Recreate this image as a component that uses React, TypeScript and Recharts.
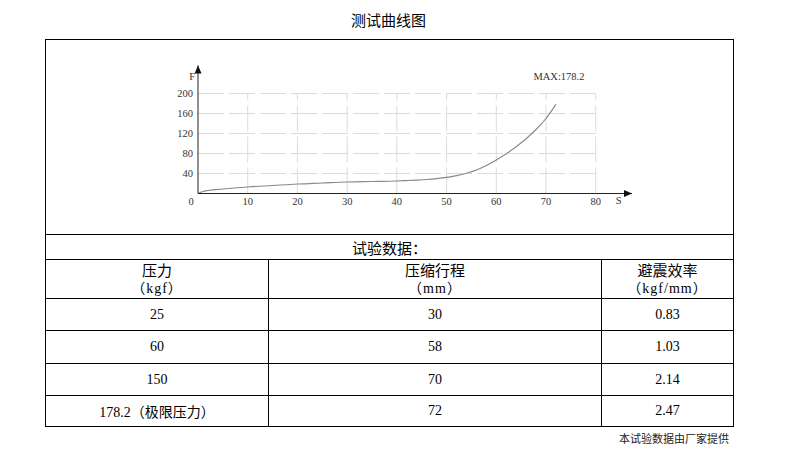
import React from 'react';
import {
  LineChart,
  Line,
  XAxis,
  YAxis,
  ReferenceLine,
  ReferenceDot,
} from 'recharts';

// curve: stroke S (mm) -> force F (kgf)
const curveS = [0, 1, 2, 5, 10, 15, 20, 25, 30, 35, 40, 42, 44, 46, 48, 50, 52, 54, 56, 58, 60, 62, 64, 66, 68, 70, 72];
const curveF = [0, 4, 6, 9, 13, 16, 19, 21, 23, 24, 25, 25.9, 26.8, 28, 29.8, 32.3, 35.8, 40.5, 47, 56, 67, 79.5, 93.5, 109.5, 128, 150, 178.2];

const xTicks = [0, 10, 20, 30, 40, 50, 60, 70, 80];
const yTicks = [40, 80, 120, 160, 200];
const maxForce = 178.2;

// test data table
const pressures = ['25', '60', '150', '178.2（极限压力）'];
const strokes = ['30', '58', '70', '72'];
const efficiencies = ['0.83', '1.03', '2.14', '2.47'];

const chartData = curveS.map((s, i) => ({ s, f: curveF[i] }));

const SERIF = '"Liberation Serif", "Noto Sans CJK SC", serif';
const CJK = '"Noto Sans CJK SC", "Liberation Serif", sans-serif';
const GRID = '#dcdcdc';

function XTick({ x, y, payload }: any) {
  const shift = payload.value === 0 ? -7 : 0;
  return (
    <text x={x + shift} y={y} dy="0.71em" textAnchor="middle" fontSize={10.5} fontFamily={SERIF} fill="#333">
      {payload.value}
    </text>
  );
}

function ArrowRight({ cx, cy }: any) {
  return <polygon points={`${cx},${cy} ${cx - 8},${cy - 3.5} ${cx - 8},${cy + 3.5}`} fill="#111" />;
}

function ArrowUp({ cx, cy }: any) {
  return <polygon points={`${cx},${cy} ${cx - 3.5},${cy + 8} ${cx + 3.5},${cy + 8}`} fill="#111" />;
}

function CurveChart() {
  return (
    <LineChart
      width={687}
      height={190}
      data={chartData}
      margin={{ top: 25.5, right: 101, bottom: 16.5, left: 122 }}
    >
      {yTicks.map((v) => (
        <ReferenceLine
          key={`h-${v}`}
          segment={[{ x: 0, y: v }, { x: 80, y: v }]}
          stroke={GRID}
          strokeDasharray="26 5"
        />
      ))}
      {xTicks.slice(1).map((v) => (
        <ReferenceLine
          key={`v-${v}`}
          segment={[{ x: v, y: 0 }, { x: v, y: 200 }]}
          stroke={GRID}
          strokeDasharray="26 5"
        />
      ))}
      <XAxis
        dataKey="s"
        type="number"
        domain={[0, 87.3]}
        ticks={xTicks}
        interval={0}
        height={20}
        tickLine={false}
        tickSize={0}
        tickMargin={4}
        axisLine={{ stroke: '#222' }}
        tick={<XTick />}
      />
      <YAxis
        type="number"
        domain={[0, 256]}
        ticks={yTicks}
        interval={0}
        width={30}
        tickLine={false}
        tickSize={0}
        tickMargin={5}
        axisLine={{ stroke: '#222' }}
        tick={{ fontSize: 10.5, fontFamily: SERIF, fill: '#333' }}
      />
      <Line
        dataKey="f"
        type="monotone"
        stroke="#8a8a8a"
        strokeWidth={1.2}
        dot={false}
        isAnimationActive={false}
      />
      <ReferenceDot x={87.3} y={0} r={0} shape={<ArrowRight />} />
      <ReferenceDot x={0} y={256} r={0} shape={<ArrowUp />} />
      <ReferenceDot
        x={0}
        y={235}
        r={0}
        label={{ value: 'F', position: 'left', offset: 3, fontSize: 10.5, fontFamily: SERIF, fill: '#333' }}
      />
      <ReferenceDot
        x={84.6}
        y={0}
        r={0}
        label={{ value: 'S', position: 'bottom', offset: 3, fontSize: 10.5, fontFamily: SERIF, fill: '#333' }}
      />
      <ReferenceDot
        x={72.6}
        y={235}
        r={0}
        label={{ value: `MAX:${maxForce}`, position: 'center', fontSize: 10.5, fontFamily: SERIF, fill: '#333' }}
      />
    </LineChart>
  );
}

const cell: React.CSSProperties = {
  border: '1px solid #000',
  padding: 0,
  textAlign: 'center',
  verticalAlign: 'middle',
  color: '#000',
};

const unit: React.CSSProperties = { fontFamily: SERIF, fontSize: 14, letterSpacing: 1 };

export default function App() {
  return (
    <div style={{ position: 'absolute', left: 0, top: 0, width: 790, height: 458, background: '#fff', fontFamily: CJK }}>
      <div style={{ position: 'absolute', left: 45, width: 687, top: 10, textAlign: 'center', fontSize: 15, lineHeight: '20px' }}>
        测试曲线图
      </div>
      <table
        style={{
          position: 'absolute',
          left: 45,
          top: 39,
          width: 688,
          borderCollapse: 'collapse',
          tableLayout: 'fixed',
        }}
      >
        <colgroup>
          <col style={{ width: 223 }} />
          <col style={{ width: 333 }} />
          <col style={{ width: 132 }} />
        </colgroup>
        <tbody>
          <tr style={{ height: 195 }}>
            <td colSpan={3} style={{ ...cell, position: 'relative' }}>
              <div style={{ position: 'absolute', left: 0, top: 0 }}>
                <CurveChart />
              </div>
            </td>
          </tr>
          <tr style={{ height: 25 }}>
            <td colSpan={3} style={{ ...cell, fontSize: 15 }}>试验数据：</td>
          </tr>
          <tr style={{ height: 39 }}>
            <td style={{ ...cell, fontSize: 15, lineHeight: '17px' }}>
              压力
              <br />
              <span style={unit}>（kgf）</span>
            </td>
            <td style={{ ...cell, fontSize: 15, lineHeight: '17px' }}>
              压缩行程
              <br />
              <span style={unit}>（mm）</span>
            </td>
            <td style={{ ...cell, fontSize: 15, lineHeight: '17px' }}>
              避震效率
              <br />
              <span style={unit}>（kgf/mm）</span>
            </td>
          </tr>
          {pressures.map((p, i) => (
            <tr key={p} style={{ height: i === 1 ? 33 : i === 3 ? 31 : 32 }}>
              <td style={{ ...cell, fontFamily: SERIF, fontSize: 14 }}>{p}</td>
              <td style={{ ...cell, fontFamily: SERIF, fontSize: 14 }}>{strokes[i]}</td>
              <td style={{ ...cell, fontFamily: SERIF, fontSize: 14 }}>{efficiencies[i]}</td>
            </tr>
          ))}
        </tbody>
      </table>
      <div style={{ position: 'absolute', right: 61, top: 431, fontSize: 11, lineHeight: '14px', color: '#222' }}>
        本试验数据由厂家提供
      </div>
    </div>
  );
}
